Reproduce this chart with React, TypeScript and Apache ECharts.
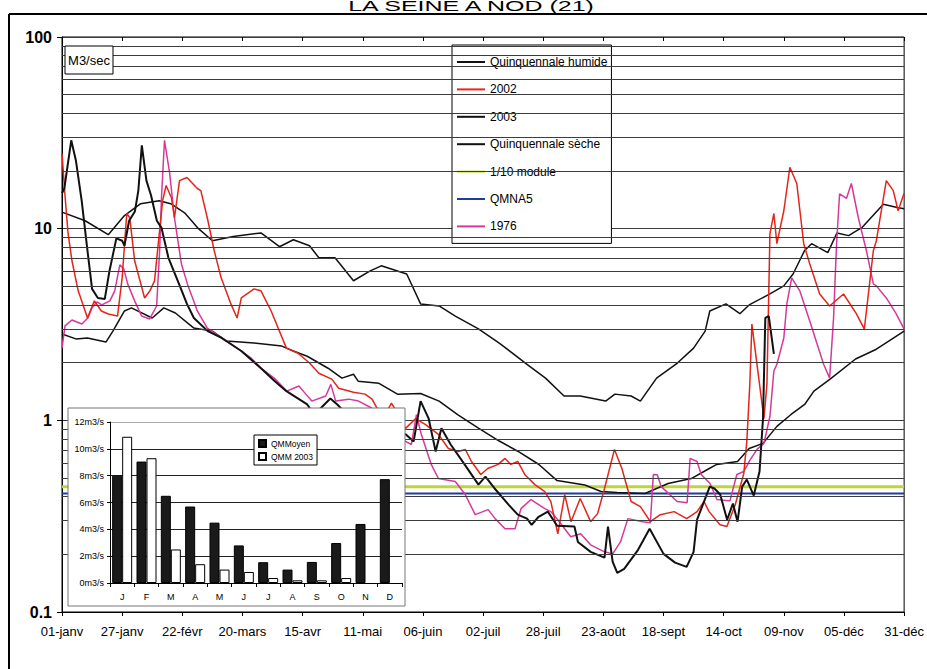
import React, { useEffect, useRef } from 'react';
import * as echarts from 'echarts';

const FONT = "'Liberation Sans', Arial, Helvetica, sans-serif";
const GRID = '#3c3c3c';

const xTickLabels = ['01-janv', '27-janv', '22-févr', '20-mars', '15-avr', '11-mai', '06-juin', '02-juil', '28-juil', '23-août', '18-sept', '14-oct', '09-nov', '05-déc', '31-déc'];
const minorGrid = [0.2, 0.3, 0.4, 0.5, 0.6, 0.7, 0.8, 0.9, 2, 3, 4, 5, 6, 7, 8, 9, 20, 30, 40, 50, 60, 70, 80, 90];

const humideDays = [0, 10, 20, 27, 34, 42, 47, 53, 59, 65, 74, 86, 94, 100, 107, 111, 118, 126, 133, 138, 149, 155, 163, 170, 180, 189, 201, 209, 217, 224, 235, 239, 246, 250, 257, 266, 273, 278, 280, 287, 293, 297, 306, 312, 316, 321, 324, 331, 335, 340, 346, 355, 361, 364];
const humideVals = [12.2, 11.0, 9.3, 11.7, 13.5, 14.0, 13.5, 12.1, 10.0, 8.65, 9.1, 9.5, 8.05, 8.75, 8.15, 7.05, 7.05, 5.35, 6.0, 6.4, 5.8, 4.05, 3.95, 3.5, 3.0, 2.53, 1.96, 1.66, 1.34, 1.34, 1.26, 1.37, 1.34, 1.26, 1.66, 1.99, 2.38, 2.92, 3.72, 4.05, 3.6, 4.0, 4.57, 5.03, 5.8, 7.7, 8.35, 7.5, 9.5, 9.2, 10.2, 13.4, 12.9, 12.7];

const secheDays = [0, 6, 11, 19, 22, 27, 30, 39, 44, 49, 57, 65, 71, 83, 95, 100, 106, 115, 121, 126, 128, 137, 145, 155, 163, 171, 180, 189, 197, 206, 214, 226, 233, 240, 252, 262, 272, 279, 283, 292, 297, 303, 309, 315, 321, 325, 332, 343, 352, 364];
const secheVals = [2.82, 2.66, 2.69, 2.56, 2.92, 3.72, 3.86, 3.42, 3.86, 3.63, 3.03, 2.92, 2.59, 2.53, 2.44, 2.30, 2.16, 1.87, 1.66, 1.74, 1.60, 1.56, 1.37, 1.38, 1.26, 1.07, 0.91, 0.78, 0.69, 0.59, 0.485, 0.46, 0.425, 0.42, 0.415, 0.468, 0.497, 0.554, 0.589, 0.61, 0.713, 0.758, 0.93, 1.07, 1.21, 1.42, 1.64, 2.09, 2.35, 2.92];

const y2003Days = [0, 1, 4, 6, 8.5, 11, 13, 15.5, 18.5, 20.5, 23.5, 26, 27, 29, 31.5, 33, 34.5, 36.5, 38.5, 41, 43, 46, 51, 54, 57, 63, 69, 77.5, 86, 92, 97, 106, 109, 116, 119, 122, 148.5, 152, 155, 158.5, 161.5, 164, 168, 174, 180, 183, 187, 193, 197, 201, 203, 206, 210, 214, 221.5, 223, 228.5, 234.5, 236, 238, 240, 243, 249, 254, 260, 265, 270, 273, 274.5, 280, 282, 284.5, 287.5, 290, 292, 294, 296, 299, 301.5, 303, 304, 305.5, 307.7];
const y2003Vals = [15.3, 16.2, 28.9, 22.7, 14.0, 7.7, 4.85, 4.35, 4.3, 6.0, 8.9, 8.65, 8.15, 11.0, 12.3, 15.8, 27.2, 17.8, 14.9, 11.0, 10.1, 7.05, 5.0, 4.05, 3.42, 2.92, 2.69, 2.30, 1.87, 1.60, 1.42, 1.21, 1.07, 1.30, 1.21, 1.11, 0.845, 0.776, 1.26, 1.02, 0.688, 0.908, 0.748, 0.589, 0.462, 0.509, 0.441, 0.363, 0.322, 0.307, 0.285, 0.314, 0.334, 0.282, 0.279, 0.232, 0.206, 0.192, 0.279, 0.183, 0.16, 0.168, 0.211, 0.272, 0.201, 0.181, 0.172, 0.206, 0.303, 0.451, 0.441, 0.41, 0.303, 0.368, 0.296, 0.451, 0.491, 0.405, 0.541, 1.02, 3.42, 3.5, 2.22];

const y2002Days = [0, 1.3, 2.6, 4.3, 7, 10, 11, 14, 17, 20, 24, 26, 28, 29.3, 31.4, 35.7, 38, 40, 41.3, 43.5, 45, 47.3, 48.6, 50.8, 54, 58.5, 60, 62.8, 65.8, 68.8, 73, 75.7, 77.5, 83, 86, 90.4, 97, 102, 107, 111, 116.6, 119.6, 126, 131, 134, 137, 140, 142.4, 145.4, 148.5, 152.8, 157, 162.7, 167, 171.3, 174.3, 177, 181, 184, 188.5, 191.5, 194, 197, 200, 204.4, 208.7, 211.3, 214.3, 217.3, 220, 224, 228.5, 231.5, 234.5, 238.8, 242, 246, 250, 254.3, 258.6, 264.6, 270, 274.5, 277.5, 279.7, 284.4, 287.4, 291, 294.7, 296, 297.3, 298.2, 300.4, 303.4, 304.7, 306, 307.7, 309, 312, 314.6, 317.6, 320.6, 323.2, 327.5, 331.8, 337.8, 343.4, 346.8, 350.7, 352, 356.3, 359.3, 361.4, 364];
const y2002Vals = [24.7, 14.9, 9.5, 6.8, 4.74, 3.72, 3.42, 4.2, 3.72, 3.59, 3.5, 5.54, 12.0, 11.4, 6.8, 4.35, 4.74, 5.34, 7.67, 14.0, 16.8, 14.5, 11.4, 17.8, 18.5, 16.2, 15.8, 11.4, 7.67, 5.54, 4.05, 3.42, 4.35, 4.85, 4.74, 3.72, 2.38, 2.24, 1.99, 1.76, 1.64, 1.47, 1.40, 1.37, 1.29, 1.11, 1.09, 1.23, 1.07, 0.908, 1.02, 0.953, 0.845, 0.713, 0.688, 0.705, 0.61, 0.522, 0.561, 0.589, 0.633, 0.589, 0.61, 0.522, 0.462, 0.425, 0.377, 0.256, 0.41, 0.296, 0.391, 0.296, 0.326, 0.441, 0.705, 0.561, 0.377, 0.355, 0.296, 0.322, 0.334, 0.307, 0.334, 0.377, 0.334, 0.285, 0.279, 0.363, 0.528, 0.776, 1.54, 3.18, 1.96, 1.02, 1.54, 9.42, 12.0, 8.35, 12.4, 20.9, 17.2, 8.35, 6.56, 4.56, 3.95, 4.56, 3.59, 2.99, 7.67, 8.65, 17.8, 15.8, 12.4, 15.3];

const y1976Days = [0, 1.3, 4.3, 8.6, 11.2, 12.9, 15.1, 17.2, 20.7, 22.8, 25, 26.7, 28.4, 31.4, 34.4, 37.9, 40.9, 42.2, 43, 44.3, 46.5, 48.6, 51.6, 54.2, 58.5, 62.8, 65.8, 71.4, 77.5, 81.8, 86.1, 91.7, 97.2, 102.4, 105.4, 108, 114, 116.2, 118.3, 123.9, 128.2, 133.8, 148.5, 151, 153.2, 155.3, 159.6, 162.7, 170, 174.3, 178.6, 184.2, 187.2, 191.5, 195.8, 198.4, 202.7, 208.7, 211.3, 214.3, 219.9, 224.2, 228.5, 234.5, 238, 241.4, 244.6, 251, 254.3, 255.6, 257.3, 259, 265.9, 270.2, 271.5, 274.5, 276.3, 280.1, 283.1, 288.7, 291.7, 294.7, 297.3, 300.4, 303.4, 306, 307.7, 309, 312, 313.3, 315.4, 318.9, 323.2, 329.2, 331.8, 333.5, 334.8, 336.1, 339.1, 341.2, 344.2, 347.7, 350.7, 352, 356.3, 360.6, 364];
const y1976Vals = [2.38, 3.11, 3.34, 3.18, 3.42, 3.86, 4.15, 4.0, 4.2, 4.74, 6.48, 6.17, 5.15, 4.2, 3.5, 3.38, 3.95, 7.67, 14.5, 28.9, 19.6, 11.4, 6.56, 5.15, 3.72, 3.03, 2.86, 2.59, 2.30, 2.11, 1.87, 1.66, 1.42, 1.51, 1.37, 1.26, 1.34, 1.54, 1.26, 1.29, 1.26, 1.16, 0.776, 0.748, 1.07, 0.845, 0.589, 0.497, 0.48, 0.41, 0.322, 0.342, 0.307, 0.272, 0.272, 0.346, 0.386, 0.346, 0.334, 0.303, 0.247, 0.256, 0.224, 0.206, 0.201, 0.232, 0.307, 0.296, 0.292, 0.522, 0.52, 0.451, 0.377, 0.372, 0.633, 0.61, 0.522, 0.468, 0.386, 0.38, 0.522, 0.541, 0.618, 0.705, 0.758, 1.05, 1.81, 1.96, 2.69, 4.05, 5.54, 4.74, 3.30, 1.96, 1.66, 3.42, 8.35, 15.2, 14.4, 17.2, 11.4, 7.67, 5.15, 5.03, 4.35, 3.59, 2.99];

const moduleLevel = 0.45;
const qmna5Level = 0.415;

const months = ['J', 'F', 'M', 'A', 'M', 'J', 'J', 'A', 'S', 'O', 'N', 'D'];
const qmMoyen = [8.0, 9.05, 6.5, 5.7, 4.5, 2.8, 1.55, 1.0, 1.57, 2.98, 4.4, 7.74];
const qmm2003 = [10.9, 9.3, 2.5, 1.4, 1.0, 0.82, 0.37, 0.2, 0.2, 0.37, null, null];

const zip = (d: number[], v: number[]) => d.map((x, i) => [x, v[i]]);

export default function App() {
  const ref = useRef<HTMLDivElement>(null);
  useEffect(() => {
    if (!ref.current) return;
    const chart = echarts.init(ref.current, null, { renderer: 'svg' });
    const lineBase = { type: 'line', showSymbol: false, symbol: 'none', xAxisIndex: 0, yAxisIndex: 0, silent: true, z: 2 };
    const mk = (name: string, data: any[], color: string, width: number) => ({
      ...lineBase, name, data, lineStyle: { color, width }, itemStyle: { color },
    });
    const option: any = {
      animation: false,
      backgroundColor: '#fff',
      textStyle: { fontFamily: FONT },
      grid: [
        { left: 62, top: 37, width: 846, height: 575, show: true, borderColor: '#000', borderWidth: 1, backgroundColor: 'transparent' },
        { left: 110, top: 422, width: 292, height: 161, z: 11 },
      ],
      xAxis: [
        {
          type: 'value', gridIndex: 0, min: 0, max: 364, interval: 26,
          axisLine: { show: true, lineStyle: { color: '#000' } },
          axisTick: { show: true, length: 4, lineStyle: { color: '#000' } },
          axisLabel: { formatter: (v: number) => xTickLabels[Math.round(v / 26)] || '', color: '#000', fontSize: 13, margin: 13, fontFamily: FONT },
          splitLine: { show: false },
        },
        {
          type: 'value', gridIndex: 0, min: 0, max: 364, interval: 26,
          axisLine: { show: false },
          axisTick: { show: true, inside: true, length: 4, lineStyle: { color: '#000' } },
          axisLabel: { show: false }, splitLine: { show: false },
        },
        {
          type: 'category', gridIndex: 1, data: months, z: 11,
          axisLine: { show: true, lineStyle: { color: '#000' } },
          axisTick: { show: true, length: 4, lineStyle: { color: '#000' } },
          axisLabel: { fontSize: 9, color: '#000', margin: 9, fontFamily: FONT },
          splitLine: { show: false },
        },
      ],
      yAxis: [
        {
          type: 'log', logBase: 10, gridIndex: 0, min: 0.1, max: 100,
          axisLine: { show: true, lineStyle: { color: '#000' } },
          axisTick: { show: true, length: 5, lineStyle: { color: '#000' } },
          axisLabel: { color: '#000', fontSize: 16, fontWeight: 'bold', margin: 10, fontFamily: FONT, formatter: (v: number) => (v < 0.5 ? '0.1' : String(Math.round(v))) },
          splitLine: { show: true, lineStyle: { color: GRID, width: 1 } },
          minorTick: { show: false }, minorSplitLine: { show: false },
        },
        {
          type: 'log', logBase: 10, gridIndex: 0, min: 0.1, max: 100,
          axisLine: { show: false },
          axisTick: { show: true, inside: true, length: 4, lineStyle: { color: '#000' } },
          axisLabel: { show: false }, splitLine: { show: false },
        },
        {
          type: 'value', gridIndex: 1, min: 0, max: 12, interval: 2, z: 11,
          axisLine: { show: true, lineStyle: { color: '#000' } },
          axisTick: { show: true, length: 3, lineStyle: { color: '#000' } },
          axisLabel: { formatter: '{value}m3/s', fontSize: 9, color: '#000', margin: 6, fontFamily: FONT },
          splitLine: { show: true, lineStyle: { color: ['#222', '#222', '#222', '#222', '#222', '#222', '#aaa'], width: 1 } },
        },
      ],
      legend: [
        {
          data: ['Quinquennale humide', '2002', '2003', 'Quinquennale sèche', '1/10 module', 'QMNA5', '1976'].map((n) => ({ name: n, icon: 'rect' })),
          orient: 'vertical', left: 452, top: 45, padding: [9, 4, 9, 5],
          itemWidth: 28, itemHeight: 2, itemGap: 11.4,
          backgroundColor: '#fff', borderColor: '#000', borderWidth: 1, borderRadius: 0,
          textStyle: { fontSize: 12, color: '#000', lineHeight: 16, fontFamily: FONT },
          selectedMode: false, z: 5,
        },
        {
          data: [{ name: 'QMMoyen', icon: 'rect' }, { name: 'QMM 2003', icon: 'rect' }],
          orient: 'vertical', left: 254, top: 435, padding: [4, 4, 4, 4],
          itemWidth: 7, itemHeight: 7, itemGap: 4,
          backgroundColor: '#fff', borderColor: '#000', borderWidth: 1, borderRadius: 0,
          textStyle: { fontSize: 8.5, color: '#000', fontFamily: FONT },
          selectedMode: false, z: 12,
        },
      ],
      graphic: [
        { type: 'text', x: 471, y: 6, scaleY: 0.55, style: { text: 'LA SEINE A NOD (21)', fontSize: 25, fontFamily: FONT, fill: '#000', align: 'center', verticalAlign: 'middle' } },
        { type: 'line', shape: { x1: 9, y1: 14, x2: 927, y2: 14 }, style: { stroke: '#000', lineWidth: 2 } },
        { type: 'line', shape: { x1: 9, y1: 14, x2: 9, y2: 669 }, style: { stroke: '#000', lineWidth: 2 } },
        { type: 'rect', z: 10, shape: { x: 65, y: 46, width: 48, height: 28 }, style: { fill: '#fff', stroke: '#000', lineWidth: 1 } },
        { type: 'text', z: 11, x: 89, y: 60, style: { text: 'M3/sec', fontSize: 13, fontFamily: FONT, fill: '#000', align: 'center', verticalAlign: 'middle' } },
        { type: 'rect', z: 10, shape: { x: 68, y: 408, width: 337, height: 198 }, style: { fill: '#fff', stroke: '#777', lineWidth: 1 } },
      ],
      series: [
        {
          ...lineBase, name: 'grid', data: [], lineStyle: { width: 0 },
          markLine: {
            silent: true, symbol: ['none', 'none'], label: { show: false },
            lineStyle: { color: GRID, width: 1, type: 'solid' }, emphasis: { disabled: true },
            data: minorGrid.map((v) => ({ yAxis: v })),
          },
        },
        mk('1/10 module', [[0, moduleLevel], [364, moduleLevel]], '#bcd63a', 3),
        mk('QMNA5', [[0, qmna5Level], [364, qmna5Level]], '#1c3d9c', 2),
        mk('Quinquennale humide', zip(humideDays, humideVals), '#111', 1.5),
        mk('Quinquennale sèche', zip(secheDays, secheVals), '#111', 1.5),
        mk('1976', zip(y1976Days, y1976Vals), '#d6399b', 1.5),
        mk('2002', zip(y2002Days, y2002Vals), '#e3261b', 1.5),
        mk('2003', zip(y2003Days, y2003Vals), '#111', 2),
        {
          name: 'QMMoyen', type: 'bar', xAxisIndex: 2, yAxisIndex: 2, data: qmMoyen, barWidth: 10, barGap: '0%', z: 11,
          itemStyle: { color: '#1a1a1a', borderColor: '#000', borderWidth: 1 }, silent: true,
        },
        {
          name: 'QMM 2003', type: 'bar', xAxisIndex: 2, yAxisIndex: 2, data: qmm2003, barWidth: 10, barGap: '0%', z: 11,
          itemStyle: { color: '#fff', borderColor: '#000', borderWidth: 1 }, silent: true,
        },
      ],
    };
    chart.setOption(option);
    return () => chart.dispose();
  }, []);
  return <div ref={ref} style={{ position: 'absolute', left: 0, top: 0, width: 927, height: 669, background: '#fff' }} />;
}
